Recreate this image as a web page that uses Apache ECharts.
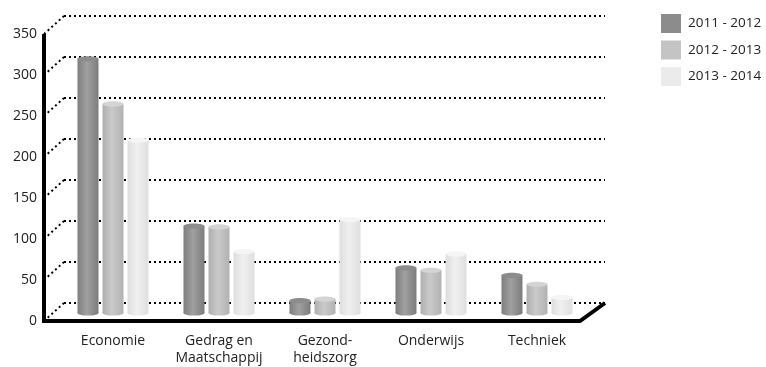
<!DOCTYPE html>
<html>
<head>
<meta charset="utf-8">
<script src="https://cdn.jsdelivr.net/npm/echarts@6/dist/echarts.min.js"></script>
<style>
  html, body { margin: 0; padding: 0; background: #fff; }
  #chart { width: 766px; height: 367px; }
</style>
</head>
<body>
<div id="chart"></div>
<script>
// Studierichtingen per studiejaar
const categories = ['Economie', 'Gedrag en\nMaatschappij', 'Gezond-\nheidszorg', 'Onderwijs', 'Techniek'];
const periods = ['2011 - 2012', '2012 - 2013', '2013 - 2014'];
const values20112012 = [310, 106, 15, 55, 46];
const values20122013 = [255, 105, 17, 52, 35];
const values20132014 = [211, 75, 114, 72, 19];
const yTicks = [0, 50, 100, 150, 200, 250, 300, 350];

const seriesValues = [values20112012, values20122013, values20132014];

// Shading per period: [edge, highlight, far edge, cap]
const shades = [
  ['#7e7e7e', '#a0a0a0', '#7c7c7c', '#8c8c8c'],
  ['#afafaf', '#cacaca', '#b2b2b2', '#d4d4d4'],
  ['#dddddd', '#f0f0f0', '#dfdfdf', '#f5f5f5']
];
const legendColors = ['#8c8c8c', '#c4c4c4', '#ebebeb'];

// Depth of the pseudo-3D box (front plane -> back wall)
const DEPTH_LEFT = [20, -18];
const DEPTH_RIGHT = [25, -18];

const font = '"Open Sans", "Noto Sans", sans-serif';
const chart = echarts.init(document.getElementById('chart'));

function cylinderRenderer(idx) {
  const s = shades[idx];
  return function (params, api) {
    const cat = api.value(0);
    const v = api.value(1);
    const band = api.size([1, 0])[0];
    const w = band * 0.198;
    const step = band * 0.236;
    const top = api.coord([cat, v]);
    const base = api.coord([cat, 0]);
    const cx = top[0] + (idx - 1) * step;
    const rx = w / 2;
    const ry = 2.6;
    const body = new echarts.graphic.LinearGradient(0, 0, 1, 0, [
      { offset: 0, color: s[0] },
      { offset: 0.45, color: s[1] },
      { offset: 1, color: s[2] }
    ]);
    return {
      type: 'group',
      children: [
        { type: 'ellipse', shape: { cx: cx, cy: base[1], rx: rx, ry: ry }, style: { fill: body } },
        { type: 'rect', shape: { x: cx - rx, y: top[1], width: w, height: base[1] - top[1] }, style: { fill: body } },
        { type: 'ellipse', shape: { cx: cx, cy: top[1], rx: rx, ry: ry }, style: { fill: s[3] } }
      ]
    };
  };
}

const barSeries = seriesValues.map(function (vals, i) {
  return {
    name: periods[i],
    type: 'custom',
    xAxisIndex: 2,
    yAxisIndex: 2,
    itemStyle: { color: legendColors[i] },
    renderItem: cylinderRenderer(i),
    data: vals.map(function (v, c) { return [c, v]; }),
    z: 5
  };
});

chart.setOption({
  animation: false,
  backgroundColor: '#fff',
  textStyle: { fontFamily: font },
  legend: {
    orient: 'vertical',
    left: 661,
    top: 14,
    padding: 0,
    itemWidth: 20,
    itemHeight: 19,
    itemGap: 7.5,
    icon: 'rect',
    data: periods,
    textStyle: { fontFamily: font, fontSize: 13.5, color: '#222', padding: [0, 0, 0, 2] }
  },
  grid: [
    { left: 44, top: 34, width: 536, height: 287 },   // front plane
    { left: 64, top: 16, width: 541, height: 287 },   // back wall
    { left: 60, top: 26, width: 530, height: 287 }    // column plane
  ],
  xAxis: [
    { gridIndex: 0, type: 'value', min: 0, max: 1, show: false },
    { gridIndex: 1, type: 'value', min: 0, max: 1, show: false },
    {
      gridIndex: 2, type: 'category', data: categories,
      axisLine: { show: false }, axisTick: { show: false },
      axisLabel: { interval: 0, margin: 20, fontSize: 14, color: '#222', lineHeight: 17, fontFamily: font }
    }
  ],
  yAxis: [
    {
      gridIndex: 0, type: 'value', min: 0, max: 350, interval: 50,
      axisLine: { show: false }, axisTick: { show: false }, splitLine: { show: false },
      axisLabel: { margin: 7, fontSize: 14, color: '#222', fontFamily: font }
    },
    {
      gridIndex: 1, type: 'value', min: 0, max: 350, interval: 50,
      axisLine: { show: false }, axisTick: { show: false }, axisLabel: { show: false },
      splitLine: { lineStyle: { color: '#000', width: 2, type: [2, 3] } }
    },
    { gridIndex: 2, type: 'value', min: 0, max: 350, show: false }
  ],
  series: [
    {
      // dotted connectors from the front axis to the back wall
      type: 'custom',
      xAxisIndex: 1,
      yAxisIndex: 1,
      silent: true,
      data: yTicks.map(function (t) { return [0, t]; }),
      renderItem: function (params, api) {
        const p = api.coord([0, api.value(1)]);
        return {
          type: 'line',
          shape: { x1: p[0] - DEPTH_LEFT[0], y1: p[1] - DEPTH_LEFT[1], x2: p[0], y2: p[1] },
          style: { stroke: '#000', lineWidth: 2, lineDash: [2, 3] }
        };
      },
      z: 2
    },
    {
      // front axis and floor edge
      type: 'custom',
      xAxisIndex: 0,
      yAxisIndex: 0,
      silent: true,
      data: [[0, 0]],
      renderItem: function (params, api) {
        const tl = api.coord([0, 350]);
        const bl = api.coord([0, 0]);
        const br = api.coord([1, 0]);
        return {
          type: 'polyline',
          shape: { points: [tl, bl, br, [br[0] + DEPTH_RIGHT[0], br[1] + DEPTH_RIGHT[1]]] },
          style: { stroke: '#000', lineWidth: 4, fill: null, lineJoin: 'miter' }
        };
      },
      z: 10
    }
  ].concat(barSeries)
});
</script>
</body>
</html>
